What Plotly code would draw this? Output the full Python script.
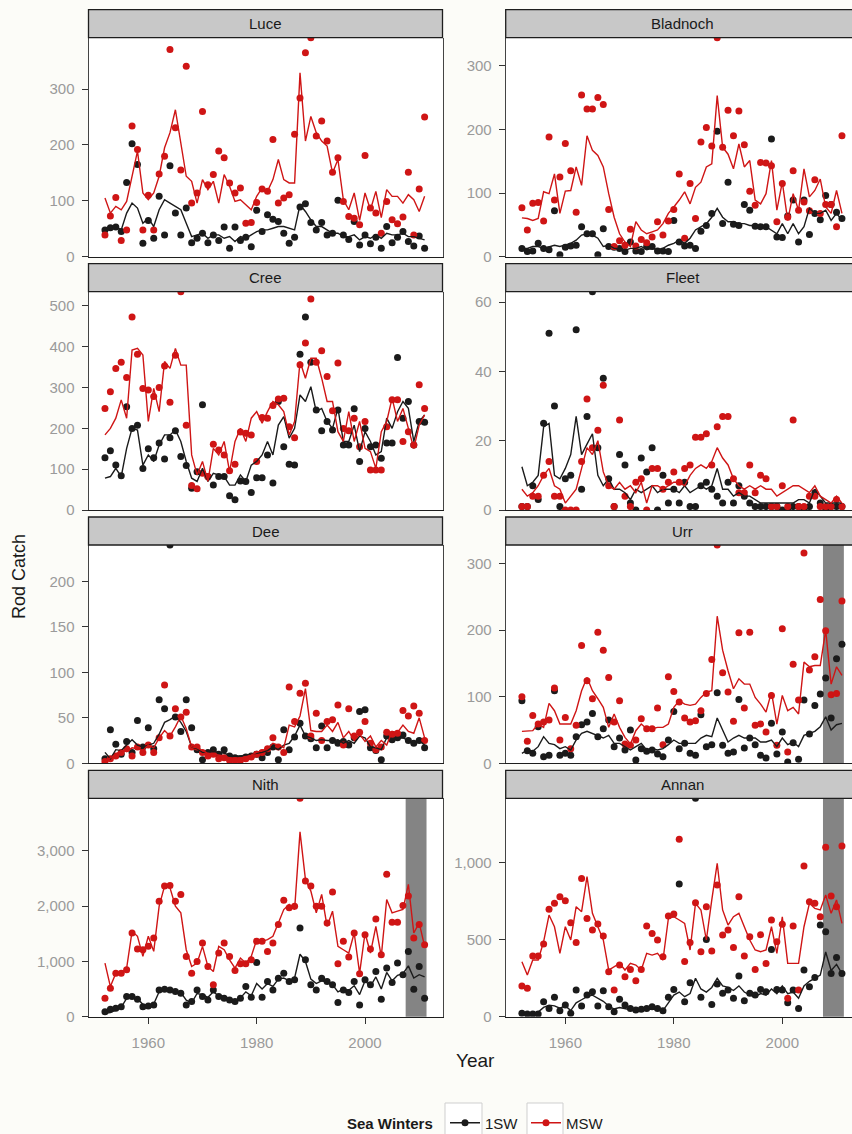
import plotly.graph_objects as go

YEARS = list(range(1952, 2012))
RIVERS = ["Luce", "Bladnoch", "Cree", "Fleet", "Dee", "Urr", "Nith", "Annan"]

# ---- observed catches (dots) and fitted values (lines), 1952-2011 ----
LUCE_1SW_OBS = [48,52,53,45,133,202,165,24,65,33, 108,39,163,78,39,87,25,33,42,25,
                39,29,53,15,53,29,35,18,83,45, 75,67,63,42,24,35,89,95,61,48,
                61,39,42,101,39,31,63,21,39,23, 35,15,54,25,35,45,27,19,37,15]
LUCE_MSW_OBS = [39,73,106,29,48,234,192,48,110,48, 148,180,371,231,155,341,96,114,260,129,
                147,189,177,132,114,123,60,61,97,121, 117,210,96,105,111,219,284,365,392,216,
                243,207,151,177,99,72,69,57,181,87, 78,42,99,66,59,71,151,39,121,250]
LUCE_1SW_FIT = [48,48,54,48,78,96,87,60,69,54, 84,102,96,90,84,60,36,39,42,33,
                39,39,33,36,27,36,33,39,45,48, 48,51,54,54,51,48,93,81,66,54,
                54,48,42,42,36,36,39,30,36,33, 39,33,42,39,39,42,36,36,33,30]
LUCE_MSW_FIT = [105,78,90,84,99,144,189,114,102,114, 144,195,222,263,204,144,135,96,138,120,
                135,96,147,126,99,102,93,84,108,123, 117,138,174,138,132,132,329,207,251,222,
                207,198,150,174,102,84,114,65,114,84, 117,70,120,108,108,96,111,102,81,108]

BLADNOCH_1SW_OBS = [13,8,9,21,13,11,72,3,15,17, 18,47,36,36,3,44,16,15,13,8,
                    23,9,8,16,16,9,9,8,57,23, 17,18,13,40,49,68,197,52,117,51,
                    49,82,73,48,47,47,185,31,30,64, 89,23,89,35,68,58,96,82,70,60]
BLADNOCH_MSW_OBS = [77,42,84,85,56,188,89,125,178,135, 70,254,232,232,250,239,74,16,25,18,
                    43,17,27,22,31,55,34,56,74,130, 29,115,60,180,203,174,344,172,230,190,
                    229,176,103,81,148,147,143,55,115,62, 135,73,86,72,121,68,82,82,47,190]
BLADNOCH_1SW_FIT = [13,13,16,16,13,16,18,16,18,21, 26,34,36,34,29,16,18,13,13,10,
                    13,13,16,11,13,11,13,18,21,26, 21,29,42,47,52,62,76,62,55,55,
                    52,52,49,49,47,47,42,36,52,36, 52,36,47,76,68,68,73,57,68,57]
BLADNOCH_MSW_FIT = [61,60,57,60,102,99,130,68,103,104, 141,112,190,167,159,141,99,62,36,23,
                    16,55,42,36,39,42,52,68,78,89, 102,83,109,117,141,146,253,172,161,138,
                    177,141,151,89,83,99,151,73,117,57, 99,73,138,94,104,122,78,68,104,68]

CREE_1SW_OBS = [128,145,110,84,253,200,208,102,150,128, 164,125,177,194,131,109,53,94,258,82,
                61,82,82,35,25,71,70,43,79,79, 135,66,266,155,112,110,382,473,362,245,
                194,217,196,245,159,159,248,119,200,155, 159,127,164,164,374,225,266,159,217,215]
CREE_MSW_OBS = [249,290,347,362,325,473,382,298,294,278, 300,353,264,379,535,208,60,52,90,82,
                161,147,135,96,112,191,188,184,119,227, 225,256,272,274,204,177,356,409,517,362,
                390,327,243,360,200,194,225,155,217,98, 98,98,204,270,270,168,192,159,307,249]
CREE_1SW_FIT = [78,82,102,82,151,200,196,110,135,119, 159,184,184,196,168,119,78,70,102,70,
                90,86,82,61,61,86,70,110,119,135, 168,135,208,229,176,200,282,266,302,241,
                249,217,200,249,168,168,208,143,192,168, 135,143,225,200,241,266,249,168,217,233]
CREE_MSW_FIT = [184,200,225,270,225,392,396,380,217,298, 241,364,347,396,355,355,135,86,119,70,
                151,135,168,94,168,200,168,225,241,213, 241,266,258,241,184,217,364,323,372,372,
                323,266,266,192,168,241,168,217,151,143, 102,192,217,274,217,249,200,151,208,233]

FLEET_1SW_OBS = [1,1,7,3,25,51,30,1,9,10, 52,6,27,63,18,38,9,1,16,13,
                 2,0,15,11,18,0,10,2,6,2, 8,1,1,7,8,6,4,2,8,2,
                 7,4,2,1,1,1,1,1,0,0, 1,1,0,1,5,2,0,1,1,1]
FLEET_MSW_OBS = [1,1,4,4,10,14,4,4,0,0, 0,14,32,18,23,36,7,1,26,4,
                 1,8,9,0,12,12,6,8,11,8, 12,13,21,21,22,13,24,27,27,9,
                 5,5,13,5,10,9,1,1,7,1, 26,1,1,4,4,1,1,1,3,1]
FLEET_1SW_FIT = [12.5,7,8,10,24,25,10,9,12,16, 27,16,19,22,10,7,9,6,6,5,
                 3,6,5,6,7,5,6,6,6,5, 7,5,6,7,6,7,12,6,6,4,
                 5,4,4,3,2,2,2,2,2,2, 2,3,3,2,6,4,2,2,2,2]
FLEET_MSW_FIT = [6,4,5,7,10,12,7,6,2,4, 6,12,18,16,20,11,7,6,8,6,
                 7,5,8,2,7,7,6,7,8,8, 7,10,12,13,12,14,18,15,13,9,
                 7,6,7,6,7,6,6,4,5,6, 7,7,6,5,7,4,3,2,4,2]

DEE_1SW_OBS = [5,37,21,10,24,12,47,18,39,16, 70,60,240,51,35,70,39,15,4,12,
               15,10,15,8,6,5,7,8,10,6, 12,18,4,37,15,29,44,30,27,17,
               41,17,25,22,24,20,28,57,59,17, 14,4,30,26,28,31,25,22,25,17]
DEE_MSW_OBS = [2,5,8,12,16,8,18,12,20,12, 28,86,30,60,51,56,18,18,12,8,
               10,5,6,3,3,3,5,7,10,12, 16,28,18,12,84,46,77,88,30,55,
               25,46,48,64,20,60,30,34,46,22, 15,18,34,32,33,58,52,63,55,25]
DEE_1SW_FIT = [12,5,15,14,20,26,20,18,20,22, 32,45,48,52,45,35,18,16,12,12,
               13,12,11,9,8,8,9,10,11,12, 14,18,15,20,22,30,42,30,28,25,
               26,25,25,26,22,25,22,30,28,18, 17,15,28,27,27,28,25,22,25,20]
DEE_MSW_FIT = [3,6,10,14,13,17,16,14,20,17, 28,36,30,40,52,38,18,17,14,11,
               10,9,8,6,6,6,7,9,12,14, 16,22,20,17,42,40,52,82,36,35,
               35,42,35,45,28,35,25,32,24,30, 18,25,20,35,34,42,35,33,50,28]

URR_1SW_OBS = [94,19,15,55,10,12,109,12,15,12, 40,58,62,75,40,52,65,25,38,20,
               50,5,22,18,20,14,10,35,78,22, 30,15,12,73,25,28,106,27,15,17,
               96,23,38,28,12,8,60,14,47,2, 31,6,95,44,87,104,128,68,157,179]
URR_MSW_OBS = [100,33,72,59,62,65,113,35,69,22, 57,177,124,97,197,170,129,62,94,29,
               27,35,67,52,52,83,28,130,108,92, 68,62,64,79,105,156,328,136,107,63,
               196,83,197,57,59,47,102,27,202,17, 149,95,316,140,160,246,199,103,105,244]
URR_1SW_FIT = [15,20,18,25,40,30,28,22,25,20, 35,45,48,45,42,38,42,30,30,25,
               20,25,30,20,22,20,22,28,35,30, 30,30,30,38,42,40,68,50,32,38,
               42,38,38,38,32,32,35,25,38,28, 32,25,42,45,48,55,70,50,58,60]
URR_MSW_FIT = [48,48,49,59,54,90,79,59,59,59, 79,109,129,109,97,84,54,74,54,39,
               29,49,59,52,52,54,54,59,84,94, 89,87,89,99,107,109,221,170,139,112,
               127,119,119,99,89,77,107,59,102,79, 84,74,152,145,147,147,200,119,145,132]

NITH_1SW_OBS = [91,133,152,182,364,364,315,182,194,212, 485,497,485,455,424,212,273,485,364,303,
                485,364,333,303,273,333,545,352,982,352, 636,485,697,788,636,667,1606,1030,576,485,
                697,636,576,255,485,436,636,212,667,576, 818,315,879,618,970,758,1182,497,909,333]
NITH_MSW_OBS = [333,515,788,788,848,1515,1224,1212,1273,1424, 2091,2364,2376,2091,2212,1091,788,1000,1333,909,
                576,1152,1333,1091,836,958,958,1030,1364,1364, 1182,1333,1667,2109,1970,2000,3952,2455,2364,2000,
                2000,1697,2255,958,1364,1079,1515,776,1485,1224, 1770,1121,2576,1709,1709,2012,2182,1424,1667,1303]
NITH_1SW_FIT = [61,75,120,170,333,364,330,220,200,230, 450,500,480,460,440,300,250,420,400,350,
                450,380,370,320,280,340,450,380,600,500, 600,550,680,700,650,700,1130,1000,680,600,
                650,620,580,450,500,480,560,400,650,550, 720,500,800,650,750,780,920,700,760,720]
NITH_MSW_FIT = [970,545,788,788,879,1545,1455,1091,1455,1182, 2000,2364,2333,2000,1879,1212,909,970,1273,909,
                818,1273,1212,1030,879,1061,970,1091,1394,1364, 1394,1455,1697,1939,2030,1939,3345,2485,2273,1879,
                2212,1636,1909,1273,1212,1152,1515,788,1515,1152, 1636,1091,2121,1879,1909,1939,2394,1515,1697,1273]

ANNAN_1SW_OBS = [22,17,17,17,97,54,126,39,76,22, 173,69,141,162,69,169,65,32,113,76,
                 54,43,48,54,65,54,39,126,177,861, 97,221,1418,126,502,80,212,152,173,119,
                 264,104,152,141,177,162,437,177,173,91, 173,54,303,195,255,595,552,281,385,281]
ANNAN_MSW_OBS = [199,184,394,394,472,697,736,779,753,610, 481,898,638,563,602,524,292,173,335,260,
                 307,234,307,589,541,498,390,654,667,1152, 359,481,740,422,714,427,855,530,563,450,
                 779,394,519,307,532,346,628,487,600,119, 589,173,978,747,736,649,1100,784,714,1108]
ANNAN_1SW_FIT = [22,22,25,30,60,75,70,55,70,40, 90,110,130,140,120,100,70,50,60,50,
                 45,40,40,45,50,45,40,90,140,160, 130,150,250,180,160,190,250,200,190,170,
                 200,160,140,130,150,140,180,150,200,150, 160,120,200,230,250,270,420,300,340,280]
ANNAN_MSW_FIT = [357,270,368,368,487,660,584,411,584,498, 714,682,909,671,584,498,303,325,346,303,
                 346,335,303,411,400,411,368,638,649,628, 606,433,736,693,498,758,996,693,595,649,
                 671,584,498,433,422,433,584,411,649,346, 346,346,584,736,703,693,790,671,758,606]

DATA = {
    "Luce": (LUCE_1SW_OBS, LUCE_MSW_OBS, LUCE_1SW_FIT, LUCE_MSW_FIT),
    "Bladnoch": (BLADNOCH_1SW_OBS, BLADNOCH_MSW_OBS, BLADNOCH_1SW_FIT, BLADNOCH_MSW_FIT),
    "Cree": (CREE_1SW_OBS, CREE_MSW_OBS, CREE_1SW_FIT, CREE_MSW_FIT),
    "Fleet": (FLEET_1SW_OBS, FLEET_MSW_OBS, FLEET_1SW_FIT, FLEET_MSW_FIT),
    "Dee": (DEE_1SW_OBS, DEE_MSW_OBS, DEE_1SW_FIT, DEE_MSW_FIT),
    "Urr": (URR_1SW_OBS, URR_MSW_OBS, URR_1SW_FIT, URR_MSW_FIT),
    "Nith": (NITH_1SW_OBS, NITH_MSW_OBS, NITH_1SW_FIT, NITH_MSW_FIT),
    "Annan": (ANNAN_1SW_OBS, ANNAN_MSW_OBS, ANNAN_1SW_FIT, ANNAN_MSW_FIT),
}

Y_TICKS = {
    "Luce": [0, 100, 200, 300], "Bladnoch": [0, 100, 200, 300],
    "Cree": [0, 100, 200, 300, 400, 500], "Fleet": [0, 20, 40, 60],
    "Dee": [0, 50, 100, 150, 200], "Urr": [0, 100, 200, 300],
    "Nith": [0, 1000, 2000, 3000], "Annan": [0, 500, 1000],
}
X_TICKS = [1960, 1980, 2000]
BAND_RIVERS = ["Urr", "Nith", "Annan"]
BAND_YEARS = (2007.5, 2011.35)

SERIES = ["1SW", "MSW"]
COLORS = {"1SW": "#1b1b1b", "MSW": "#cf1515"}

# ---- layout geometry (pixels) ----
W, H = 852, 1134
COL_X = [(88.5, 442.5), (505.7, 852.0)]
COL_RANGE = [(1948.96, 2014.3), (1949.01, 2012.85)]
ROW_Y = [(37.7, 256.7), (291.7, 510.0), (545.0, 763.3), (798.3, 1016.7)]
STRIP_H = 28.0
PANEL_W = 354.0
FONT = "Liberation Sans, Arial, Helvetica, sans-serif"

fig = go.Figure()
shapes, annotations = [], []
layout_axes = {}

for i, river in enumerate(RIVERS):
    r, c = divmod(i, 2)
    n = i + 1
    xname = "x" if n == 1 else f"x{n}"
    yname = "y" if n == 1 else f"y{n}"
    obs1, obs2, fit1, fit2 = DATA[river]
    for arr in DATA[river]:
        assert len(arr) == len(YEARS), river

    for s, obs in zip(SERIES, (obs1, obs2)):
        fig.add_trace(go.Scatter(x=YEARS, y=obs, mode="markers", xaxis=xname, yaxis=yname,
                                 marker=dict(color=COLORS[s], size=7, line=dict(width=0)),
                                 showlegend=False, hoverinfo="x+y", name=s))
    for s, fit in zip(SERIES, (fit1, fit2)):
        fig.add_trace(go.Scatter(x=YEARS, y=fit, mode="lines", xaxis=xname, yaxis=yname,
                                 line=dict(color=COLORS[s], width=1.4),
                                 showlegend=False, hoverinfo="x+y", name=s))

    x0, x1 = COL_X[c]
    top, bot = ROW_Y[r]
    ymax = max(max(obs1), max(obs2), max(fit1), max(fit2))
    bottom_row = (r == 3)

    layout_axes["xaxis" if n == 1 else f"xaxis{n}"] = dict(
        domain=[x0 / W, x1 / W], range=list(COL_RANGE[c]), anchor=yname,
        showgrid=False, zeroline=False, showline=True, linecolor="#1e1e1e", linewidth=1.3,
        ticks="outside" if bottom_row else "", ticklen=6, tickwidth=1.2, tickcolor="#333333",
        tickvals=X_TICKS, showticklabels=bottom_row, ticklabelstandoff=6,
        tickfont=dict(family=FONT, size=15, color="#9a9a9a"),
    )
    layout_axes["yaxis" if n == 1 else f"yaxis{n}"] = dict(
        domain=[1 - bot / H, 1 - top / H], range=[0, ymax], anchor=xname,
        showgrid=False, zeroline=False, showline=True, linecolor="#444444", linewidth=1,
        mirror=(c == 0), ticks="outside", ticklen=6, tickwidth=1.2, tickcolor="#333333",
        tickvals=Y_TICKS[river], tickformat=",d", ticklabelstandoff=4,
        tickfont=dict(family=FONT, size=15, color="#9a9a9a"),
    )

    shapes.append(dict(type="rect", xref="paper", yref="paper",
                       x0=x0 / W, x1=(x0 + PANEL_W) / W if c == 0 else 1.03,
                       y0=1 - top / H, y1=1 - (top - STRIP_H) / H,
                       fillcolor="#c8c8c8", line=dict(color="#1e1e1e", width=1.3), layer="above"))
    annotations.append(dict(text=river, xref="paper", yref="paper",
                            x=(x0 + PANEL_W / 2) / W, y=1 - (top - STRIP_H / 2) / H,
                            showarrow=False, xanchor="center", yanchor="middle",
                            font=dict(family=FONT, size=15, color="#1a1a1a")))
    if river in BAND_RIVERS:
        shapes.append(dict(type="rect", xref=xname, yref=f"{yname} domain",
                           x0=BAND_YEARS[0], x1=BAND_YEARS[1], y0=0, y1=1,
                           fillcolor="#848484", line=dict(width=0), layer="below"))

# legend key boxes (decoration behind the legend symbols)
for bx0, bx1 in [(445, 482), (527, 563)]:
    shapes.append(dict(type="rect", xref="paper", yref="paper",
                       x0=bx0 / W, x1=bx1 / W, y0=-0.02, y1=1 - 1103 / H,
                       fillcolor="#ffffff", line=dict(color="#cfcfcf", width=1), layer="above"))

for s in SERIES:
    fig.add_trace(go.Scatter(x=[None], y=[None], mode="lines+markers", name=s,
                             line=dict(color=COLORS[s], width=1.6),
                             marker=dict(color=COLORS[s], size=7), showlegend=True))

annotations.append(dict(text="Rod Catch", xref="paper", yref="paper", x=19 / W, y=1 - 577 / H,
                        textangle=-90, showarrow=False, xanchor="center", yanchor="middle",
                        font=dict(family=FONT, size=18, color="#1a1a1a")))
annotations.append(dict(text="Year", xref="paper", yref="paper", x=475 / W, y=1 - 1060 / H,
                        showarrow=False, xanchor="center", yanchor="middle",
                        font=dict(family=FONT, size=19, color="#1a1a1a")))
annotations.append(dict(text="<b>Sea Winters</b>", xref="paper", yref="paper", x=435 / W, y=1 - 1123 / H,
                        showarrow=False, xanchor="right", yanchor="middle",
                        font=dict(family=FONT, size=15, color="#1a1a1a")))

fig.update_layout(
    width=W, height=H,
    margin=dict(l=0, r=0, t=0, b=0, pad=0, autoexpand=False),
    paper_bgcolor="#fcfcf8", plot_bgcolor="#ffffff",
    shapes=shapes, annotations=annotations,
    legend=dict(orientation="h", x=445 / W, xanchor="left", y=1 - 1123 / H, yanchor="middle",
                font=dict(family=FONT, size=15, color="#1a1a1a"),
                bgcolor="rgba(0,0,0,0)", borderwidth=0,
                entrywidth=36, entrywidthmode="pixels"),
    **layout_axes,
)

fig.write_html("out.html", config={"displayModeBar": False},
               post_script="document.body.style.margin='0px';document.body.style.overflow='hidden';")
